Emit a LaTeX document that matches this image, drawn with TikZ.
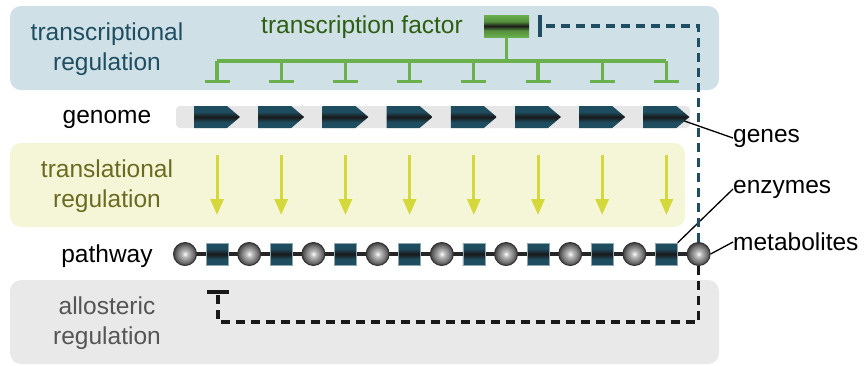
\documentclass[tikz,border=0pt]{standalone}
\usepackage{fontspec}
\setmainfont{Liberation Sans}
\usetikzlibrary{arrows.meta}
\definecolor{tealbox}{HTML}{CFE0E6}
\definecolor{yelbox}{HTML}{F5F6D8}
\definecolor{graybox}{HTML}{E9E9E9}
\definecolor{tealtxt}{HTML}{1F4E63}
\definecolor{greentxt}{HTML}{2E5E12}
\definecolor{olivetxt}{HTML}{6B6B20}
\definecolor{graytxt}{HTML}{555555}
\definecolor{tfgreen}{HTML}{6AB04C}
\definecolor{arrowyel}{HTML}{D5D83B}
\definecolor{geneteal}{HTML}{1E4D5F}
\definecolor{genebar}{HTML}{E6E6E6}
\definecolor{fbteal}{HTML}{1F4E63}
\pgfdeclareverticalshading{genesh}{100bp}{color(0bp)=(geneteal); color(25bp)=(geneteal); color(38bp)=(geneteal); color(50bp)=(black!90); color(62bp)=(geneteal); color(75bp)=(geneteal); color(100bp)=(geneteal)}
\pgfdeclareverticalshading{tfsh}{100bp}{color(0bp)=(tfgreen); color(25bp)=(tfgreen); color(40bp)=(tfgreen!80!black); color(50bp)=(black!90); color(60bp)=(tfgreen!80!black); color(75bp)=(tfgreen); color(100bp)=(tfgreen)}
\pgfdeclareradialshading{metsh}{\pgfpoint{0bp}{0bp}}{color(0bp)=(white); color(6bp)=(black!25); color(18bp)=(black!55); color(25bp)=(black!75); color(50bp)=(black!75)}
\tikzset{
  lbl/.style={font=\fontsize{24.5}{30}\selectfont, align=center, inner sep=0pt},
  rlbl/.style={font=\fontsize{24.5}{30}\selectfont, anchor=west, inner sep=0pt},
  tfline/.style={draw=tfgreen, line width=3.3pt},
  transarrow/.style={draw=arrowyel, line width=3pt, -{Triangle[width=13pt,length=16pt]}},
  fbline/.style={line width=3.5pt, dash pattern=on 9pt off 6pt},
  enzyme/.style={rectangle, minimum size=22pt, inner sep=0pt, draw=geneteal!50, line width=0.4pt,
    shading=genesh},
  metab/.style={circle, minimum size=23pt, inner sep=0pt, draw=black!80, line width=1pt,
    shading=metsh},
}
\begin{document}
\begin{tikzpicture}[x=1pt,y=-1pt]
\useasboundingbox (0,0) rectangle (864,365);
% background boxes
\fill[tealbox, rounded corners=11pt] (10,6) rectangle (719,90);
\fill[yelbox, rounded corners=11pt] (10,143) rectangle (685,227);
\fill[graybox, rounded corners=11pt] (10,280) rectangle (719,364);
% left labels
\node[lbl, text=tealtxt] (treg) at (107,49) {transcriptional\\regulation};
\node[lbl] (genome) at (107,119) {genome};
\node[lbl, text=olivetxt] (tlreg) at (107,186) {translational\\regulation};
\node[lbl] (pathway) at (107,256) {pathway};
\node[lbl, text=graytxt] (alreg) at (107,323) {allosteric\\regulation};
% transcription factor
\node[lbl, text=greentxt] (tflabel) at (362,27) {transcription factor};
\node[rectangle, minimum width=45pt, minimum height=22pt, inner sep=0pt,
  shading=tfsh] (tf) at (506.5,26) {};
\coordinate (trunk) at (506.5,61);
\draw[tfline] (tf.south) -- (trunk);
\coordinate (hl) at (217,61);
\coordinate (hr) at (666,61);
\draw[tfline] (hl) -- (hr);
\foreach \k in {0,...,7}{
  \coordinate (top\k) at ({217+64.2*\k},61);
  \coordinate (bot\k) at ({217+64.2*\k},83);
  \draw[tfline, -{Bar[width=25pt,length=3pt]}] (top\k) -- (bot\k);
}
% genome bar and genes
\fill[genebar, rounded corners=4pt] (176,106) rectangle (690,128);
\foreach \k in {0,...,7}{
  \pgfmathsetmacro{\gx}{194+64.2*\k}
  \shade[shading=genesh]
    (\gx,106) -- ({\gx+33},106) -- ({\gx+46},117) -- ({\gx+33},128) -- (\gx,128) -- cycle;
  \coordinate (gene\k) at ({\gx+41},121);
}
\node[rlbl] (genes) at (733,138) {genes};
\draw[line width=1.3pt] (gene7) -- (genes.west);
% translational arrows
\foreach \k in {0,...,7}{
  \coordinate (ta\k) at ({217+64.2*\k},155);
  \coordinate (tb\k) at ({217+64.2*\k},215);
  \draw[transarrow] (ta\k) -- (tb\k);
}
% pathway
\foreach \k in {0,...,8}{
  \coordinate (mc\k) at ({185+64.2*\k},254);
}
\draw[line width=3.5pt, draw=black!85] (mc0) -- (mc8);
\foreach \k in {0,...,7}{
  \node[enzyme] (e\k) at ({217+64.2*\k},254) {};
}
\foreach \k in {0,...,8}{
  \node[metab] (m\k) at (mc\k) {};
}
\node[rlbl] (enzymes) at (733,189) {enzymes};
\node[rlbl] (metabolites) at (733,242) {metabolites};
\draw[line width=1.3pt] (e7.north east) -- (enzymes.west);
\draw[line width=1.3pt] (m8.east) -- (metabolites.west);
% feedback loops
\coordinate (tfbar) at (538,26);
\draw[fbline, draw=fbteal, -{Bar[width=22pt,length=3pt]}] (m8.north) |- (tfbar);
\coordinate (lc) at (218,322);
\coordinate (albar) at (218,290);
\draw[fbline, draw=black!90, -{Bar[width=22pt,length=3pt]}] (m8.south) |- (lc) -- (albar);
\end{tikzpicture}
\end{document}
